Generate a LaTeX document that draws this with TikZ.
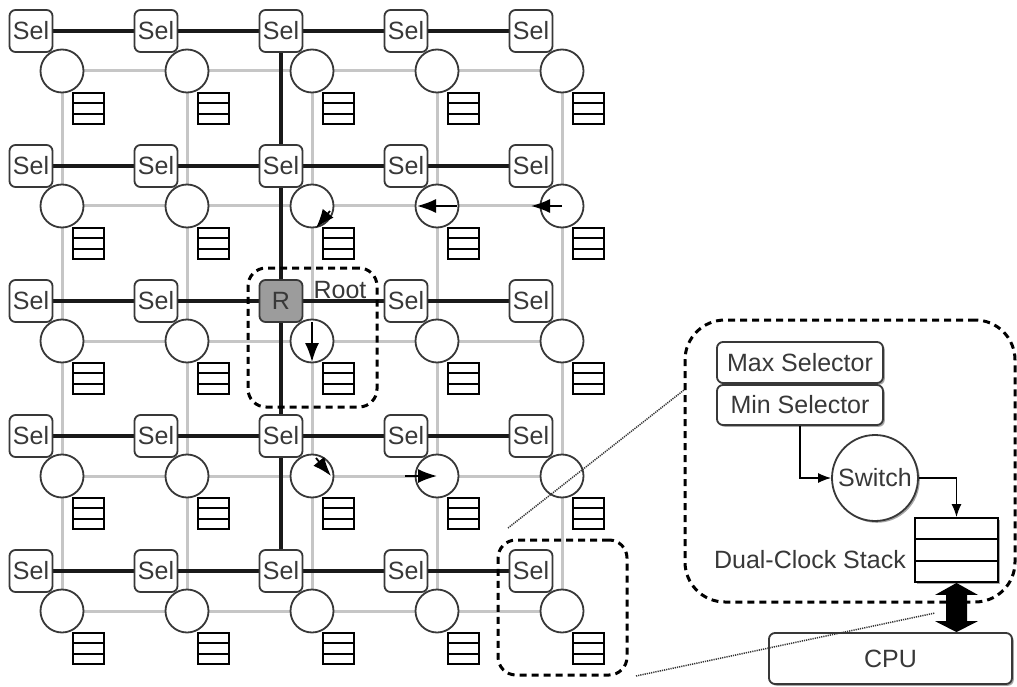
\documentclass[tikz,border=0pt]{standalone}
\usepackage{fontspec}
\setmainfont{Liberation Sans}
\usetikzlibrary{arrows.meta,shadows,calc}

\definecolor{ink}{HTML}{383838}
\definecolor{gridgray}{HTML}{C6C6C6}
\definecolor{rootfill}{HTML}{9C9C9C}

\pgfdeclarelayer{paper}
\pgfdeclarelayer{background}
\pgfsetlayers{paper,background,main}

\tikzset{
  lbl/.style={text=ink, font=\fontsize{25}{29}\selectfont, inner sep=0pt},
  selbox/.style={lbl, draw=ink, line width=1.8pt, rounded corners=6pt, fill=white,
    minimum width=43pt, minimum height=42pt},
  rootbox/.style={fill=rootfill},
  pe/.style={circle, draw=ink, line width=1.8pt, fill=white, minimum size=43pt, inner sep=0pt},
  stk/.style={draw=black, line width=1.9pt, fill=white, inner sep=0pt,
    path picture={
      \draw[line width=1.9pt]
        ($(path picture bounding box.north west)!1/3!(path picture bounding box.south west)$) --
        ($(path picture bounding box.north east)!1/3!(path picture bounding box.south east)$)
        ($(path picture bounding box.north west)!2/3!(path picture bounding box.south west)$) --
        ($(path picture bounding box.north east)!2/3!(path picture bounding box.south east)$);
    }},
  smallstk/.style={stk, minimum width=31pt, minimum height=31pt},
  treelink/.style={line width=3.3pt, black!90},
  gridlink/.style={line width=3pt, gridgray},
  zonebox/.style={draw=black, line width=3pt, dash pattern=on 7pt off 5pt, inner sep=0pt},
  flowarrow/.style={line width=1.8pt, black, -{Latex[length=19pt,width=14pt]}},
  thinarrow/.style={line width=1.3pt, black, -{Latex[length=13pt,width=10pt]}},
  zoomline/.style={line width=1.5pt, black!80, dash pattern=on 1.2pt off 1pt},
  shadowed/.style={drop shadow={shadow xshift=1.8pt, shadow yshift=-1.8pt, fill=black, opacity=0.35}},
  detailbox/.style={lbl, draw=ink, line width=1.8pt, rounded corners=6pt, fill=white, shadowed},
}

\begin{document}
\begin{tikzpicture}[x=1pt, y=-1pt]
\useasboundingbox (0,0) rectangle (1017,687);
\begin{pgfonlayer}{paper}
  \fill[white] (0,0) rectangle (1017,687);
\end{pgfonlayer}

% ---- processing-element grid: selectors, switches and stacks ----
\foreach \r in {0,...,4}{
  \foreach \c in {0,...,4}{
    \ifnum\r\c=22
      \node[selbox, rootbox] (sel-\r-\c) at ({31+125*\c},{31+135*\r}) {R};
    \else
      \node[selbox] (sel-\r-\c) at ({31+125*\c},{31+135*\r}) {Sel};
    \fi
    \node[pe] (pe-\r-\c) at ({62+125*\c},{71+135*\r}) {};
    \node[smallstk] (stk-\r-\c) at ({88.5+125*\c},{108.5+135*\r}) {};
  }
}

% ---- links between elements ----
\begin{pgfonlayer}{background}
  \foreach \i in {0,...,4}{
    \draw[gridlink] (pe-\i-0) -- (pe-\i-4);
    \draw[gridlink] (pe-0-\i) -- (pe-4-\i);
  }
  \foreach \i in {0,...,4}{
    \draw[treelink] (sel-\i-0) -- (sel-\i-4);
  }
  \draw[treelink] (sel-0-2) -- (sel-4-2);
\end{pgfonlayer}

% ---- switch directions ----
\draw[flowarrow] ($(pe-1-2)+(18,5)$) -- ($(pe-1-2)+(4,22)$);
\draw[flowarrow] ($(pe-1-3)+(20,0)$) -- ($(pe-1-3)+(-20,0)$);
\draw[flowarrow] (pe-1-4.center) -- ($(pe-1-4)+(-31,0)$);
\draw[flowarrow] ($(pe-2-2)+(0,-19)$) -- ($(pe-2-2)+(0,21)$);
\draw[flowarrow] ($(pe-3-2)+(4,-18)$) -- ($(pe-3-2)+(19,0)$);
\draw[flowarrow] ($(pe-3-3)+(-32,0)$) -- (pe-3-3.center);

% ---- highlighted zones ----
\node[zonebox, rounded corners=18pt, minimum width=129pt, minimum height=139pt]
  (rootzone) at (312.5,337.5) {};
\node[lbl] (rootlbl) at (340,290) {Root};
\node[zonebox, rounded corners=18pt, minimum width=129pt, minimum height=135pt]
  (tilezone) at (562.5,607.5) {};

% ---- enlarged tile ----
\node[zonebox, rounded corners=40pt, minimum width=330pt, minimum height=282pt]
  (detail) at (850,461) {};
\node[detailbox, minimum width=166pt, minimum height=41pt] (maxsel) at (800,362.5) {Max Selector};
\node[detailbox, minimum width=166pt, minimum height=40pt] (minsel) at (800,405) {Min Selector};
\node[pe, lbl, draw=ink, minimum size=86pt, shadowed] (switch) at (875,478) {Switch};
\node[stk, minimum width=83pt, minimum height=64pt, shadowed] (dstack) at (956.5,550) {};
\node[lbl, anchor=east] (dslbl) at (906,560) {Dual-Clock Stack};
\node[detailbox, minimum width=243pt, minimum height=51pt] (cpu) at (890.5,658.5) {CPU};

\draw[thinarrow] (minsel.south) |- (switch.west);
\draw[thinarrow] (switch.east) -| (dstack.north);

% stack <-> CPU transfer
\coordinate (da) at (dstack.south);
\coordinate (db) at (dstack.south |- cpu.north);
\fill[black] (da) -- ($(da)+(21.5,12)$) -- ($(da)+(10.5,12)$) -- ($(db)+(10.5,-11)$)
  -- ($(db)+(21.5,-11)$) -- (db) -- ($(db)+(-21.5,-11)$) -- ($(db)+(-10.5,-11)$)
  -- ($(da)+(-10.5,12)$) -- ($(da)+(-21.5,12)$) -- cycle;

% ---- projection lines from the tile to its enlargement ----
\coordinate (zu1) at (508,528);
\coordinate (zu2) at (684,390);
\coordinate (zl1) at (636,676);
\coordinate (zl2) at (935,613);
\draw[zoomline] (zu1) -- (zu2);
\draw[zoomline] (zl1) -- (zl2);
\end{tikzpicture}
\end{document}
